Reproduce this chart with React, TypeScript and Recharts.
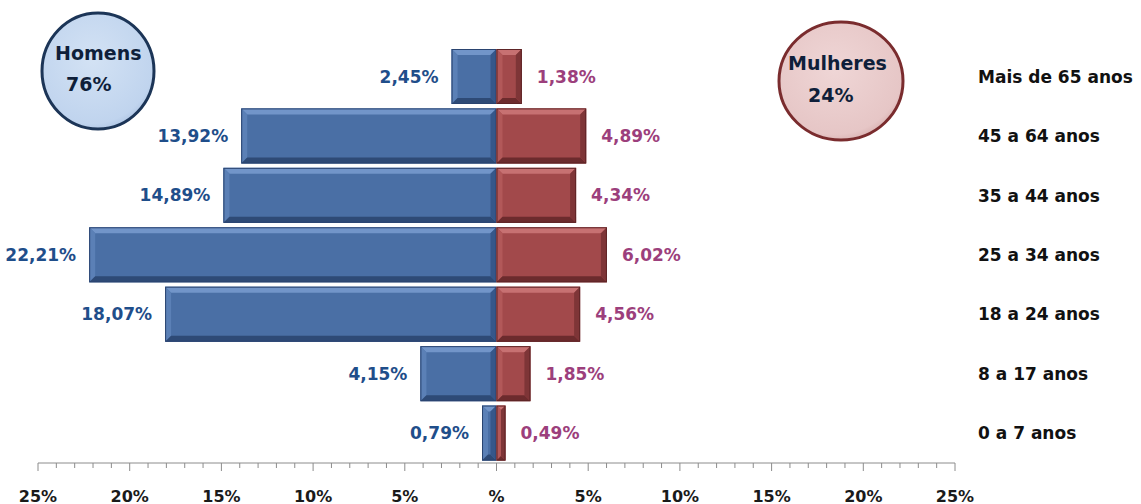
import { BarChart, Bar, XAxis, YAxis, LabelList } from 'recharts';

const faixas = [
  'Mais de 65 anos',
  '45 a 64 anos',
  '35 a 44 anos',
  '25 a 34 anos',
  '18 a 24 anos',
  '8 a 17 anos',
  '0 a 7 anos',
];
const homens = [2.45, 13.92, 14.89, 22.21, 18.07, 4.15, 0.79];
const mulheres = [1.38, 4.89, 4.34, 6.02, 4.56, 1.85, 0.49];
const majorTicks = [-25, -20, -15, -10, -5, 0, 5, 10, 15, 20, 25];
const totalHomens = '76%';
const totalMulheres = '24%';

const FONT = '"DejaVu Sans", sans-serif';

const allTicks: number[] = [];
for (let t = majorTicks[0]; t <= majorTicks[majorTicks.length - 1]; t++) allTicks.push(t);

const data = faixas.map((faixa, i) => ({
  faixa,
  homens: -homens[i],
  mulheres: mulheres[i],
}));

const fmt = (v: number) => Math.abs(v).toFixed(2).replace('.', ',') + '%';

const palettes: Record<string, any> = {
  blue: { main: '#4A6FA5', top: '#7295C9', left: '#5B80B6', bottom: '#2E4A76', right: '#36578A', line: '#2A4470' },
  red: { main: '#A2494B', top: '#C77172', left: '#B25859', bottom: '#6C2B2D', right: '#7E3537', line: '#5E2426' },
};

const bevelShape = (pal: any) => (props: any) => {
  let { x, y, width: w, height: h } = props;
  if (w < 0) { x = x + w; w = -w; }
  if (h < 0) { y = y + h; h = -h; }
  if (!w || !h) return <g />;
  const b = Math.min(6, w / 2, h / 2);
  return (
    <g>
      <rect x={x} y={y} width={w} height={h} fill={pal.main} />
      <polygon points={`${x},${y} ${x + w},${y} ${x + w - b},${y + b} ${x + b},${y + b}`} fill={pal.top} />
      <polygon points={`${x},${y} ${x + b},${y + b} ${x + b},${y + h - b} ${x},${y + h}`} fill={pal.left} />
      <polygon points={`${x},${y + h} ${x + b},${y + h - b} ${x + w - b},${y + h - b} ${x + w},${y + h}`} fill={pal.bottom} />
      <polygon points={`${x + w},${y} ${x + w},${y + h} ${x + w - b},${y + h - b} ${x + w - b},${y + b}`} fill={pal.right} />
      <rect x={x + 0.5} y={y + 0.5} width={w - 1} height={h - 1} fill="none" stroke={pal.line} strokeWidth={1} />
    </g>
  );
};

const valueLabel = (side: 'left' | 'right', color: string) => (props: any) => {
  let { x, y, width: w, height: h, value } = props;
  if (w < 0) { x = x + w; w = -w; }
  const cy = y + h / 2;
  const tx = side === 'left' ? x - 13 : x + w + 15;
  return (
    <text x={tx} y={cy} textAnchor={side === 'left' ? 'end' : 'start'} dominantBaseline="central"
      fontFamily={FONT} fontWeight="bold" fontSize={17} fill={color}>
      {fmt(value)}
    </text>
  );
};

const XTick = (props: any) => {
  const { x, y, payload } = props;
  const v = payload.value;
  const major = v % 5 === 0;
  return (
    <g>
      <line x1={x} x2={x} y1={y} y2={y + (major ? 8 : 5)} stroke="#8C8C8C" strokeWidth={1} />
      {major && (
        <text x={x} y={y + 33} textAnchor="middle" dominantBaseline="central"
          fontFamily={FONT} fontWeight="bold" fontSize={16} fill="#1A1A1A">
          {v === 0 ? '%' : Math.abs(v) + '%'}
        </text>
      )}
    </g>
  );
};

const YTick = (props: any) => {
  const { x, y, payload } = props;
  return (
    <text x={x + 23} y={y} textAnchor="start" dominantBaseline="central"
      fontFamily={FONT} fontWeight="bold" fontSize={17} fill="#111">
      {payload.value}
    </text>
  );
};

export default function App() {
  return (
    <div style={{ position: 'absolute', left: 0, top: 0, width: 1141, height: 504, background: '#fff' }}>
      <BarChart
        width={1141}
        height={504}
        data={data}
        layout="vertical"
        stackOffset="sign"
        barCategoryGap={2}
        margin={{ top: 47, right: 0, left: 38, bottom: 0 }}
      >
        <defs>
          <radialGradient id="gHom" cx="45%" cy="35%" r="70%">
            <stop offset="0%" stopColor="#D6E4F5" />
            <stop offset="80%" stopColor="#BCD1EC" />
            <stop offset="100%" stopColor="#9FB7D8" />
          </radialGradient>
          <radialGradient id="gMul" cx="45%" cy="35%" r="70%">
            <stop offset="0%" stopColor="#F0D8D8" />
            <stop offset="80%" stopColor="#E4C2C2" />
            <stop offset="100%" stopColor="#CFA3A3" />
          </radialGradient>
        </defs>
        <XAxis
          type="number"
          domain={[-25, 25]}
          ticks={allTicks}
          interval={0}
          height={41}
          tickSize={0}
          tickMargin={0}
          tickLine={false}
          axisLine={{ stroke: '#8C8C8C' }}
          tick={<XTick />}
        />
        <YAxis
          type="category"
          dataKey="faixa"
          orientation="right"
          width={186}
          tickSize={0}
          tickMargin={0}
          axisLine={false}
          tickLine={false}
          interval={0}
          tick={<YTick />}
        />
        <Bar dataKey="homens" stackId="a" isAnimationActive={false} shape={bevelShape(palettes.blue)}>
          <LabelList dataKey="homens" content={valueLabel('left', '#1F4E8A')} />
        </Bar>
        <Bar dataKey="mulheres" stackId="a" isAnimationActive={false} shape={bevelShape(palettes.red)}>
          <LabelList dataKey="mulheres" content={valueLabel('right', '#9C3F7C')} />
        </Bar>
      </BarChart>
      <svg width={1141} height={504} style={{ position: 'absolute', left: 0, top: 0, pointerEvents: 'none' }}>
        <defs>
          <radialGradient id="cHom" cx="45%" cy="40%" r="65%">
            <stop offset="0%" stopColor="#D3E2F4" />
            <stop offset="85%" stopColor="#C0D4EE" />
            <stop offset="100%" stopColor="#A9C0E0" />
          </radialGradient>
          <radialGradient id="cMul" cx="45%" cy="40%" r="65%">
            <stop offset="0%" stopColor="#EFD6D6" />
            <stop offset="85%" stopColor="#E6C6C6" />
            <stop offset="100%" stopColor="#D4AAAA" />
          </radialGradient>
        </defs>
        <ellipse cx={98} cy={71} rx={56} ry={58} fill="url(#cHom)" stroke="#1C3557" strokeWidth={3} />
        <text x={55} y={53} dominantBaseline="central" fontFamily={FONT} fontWeight="bold" fontSize={19} fill="#0F1F3A">Homens</text>
        <text x={66} y={84} dominantBaseline="central" fontFamily={FONT} fontWeight="bold" fontSize={19} fill="#0F1F3A">{totalHomens}</text>
        <ellipse cx={841} cy={81} rx={62} ry={59} fill="url(#cMul)" stroke="#7A2C2E" strokeWidth={3} />
        <text x={788} y={63} dominantBaseline="central" fontFamily={FONT} fontWeight="bold" fontSize={19} fill="#0F1F3A">Mulheres</text>
        <text x={808} y={95} dominantBaseline="central" fontFamily={FONT} fontWeight="bold" fontSize={19} fill="#0F1F3A">{totalMulheres}</text>
      </svg>
    </div>
  );
}
